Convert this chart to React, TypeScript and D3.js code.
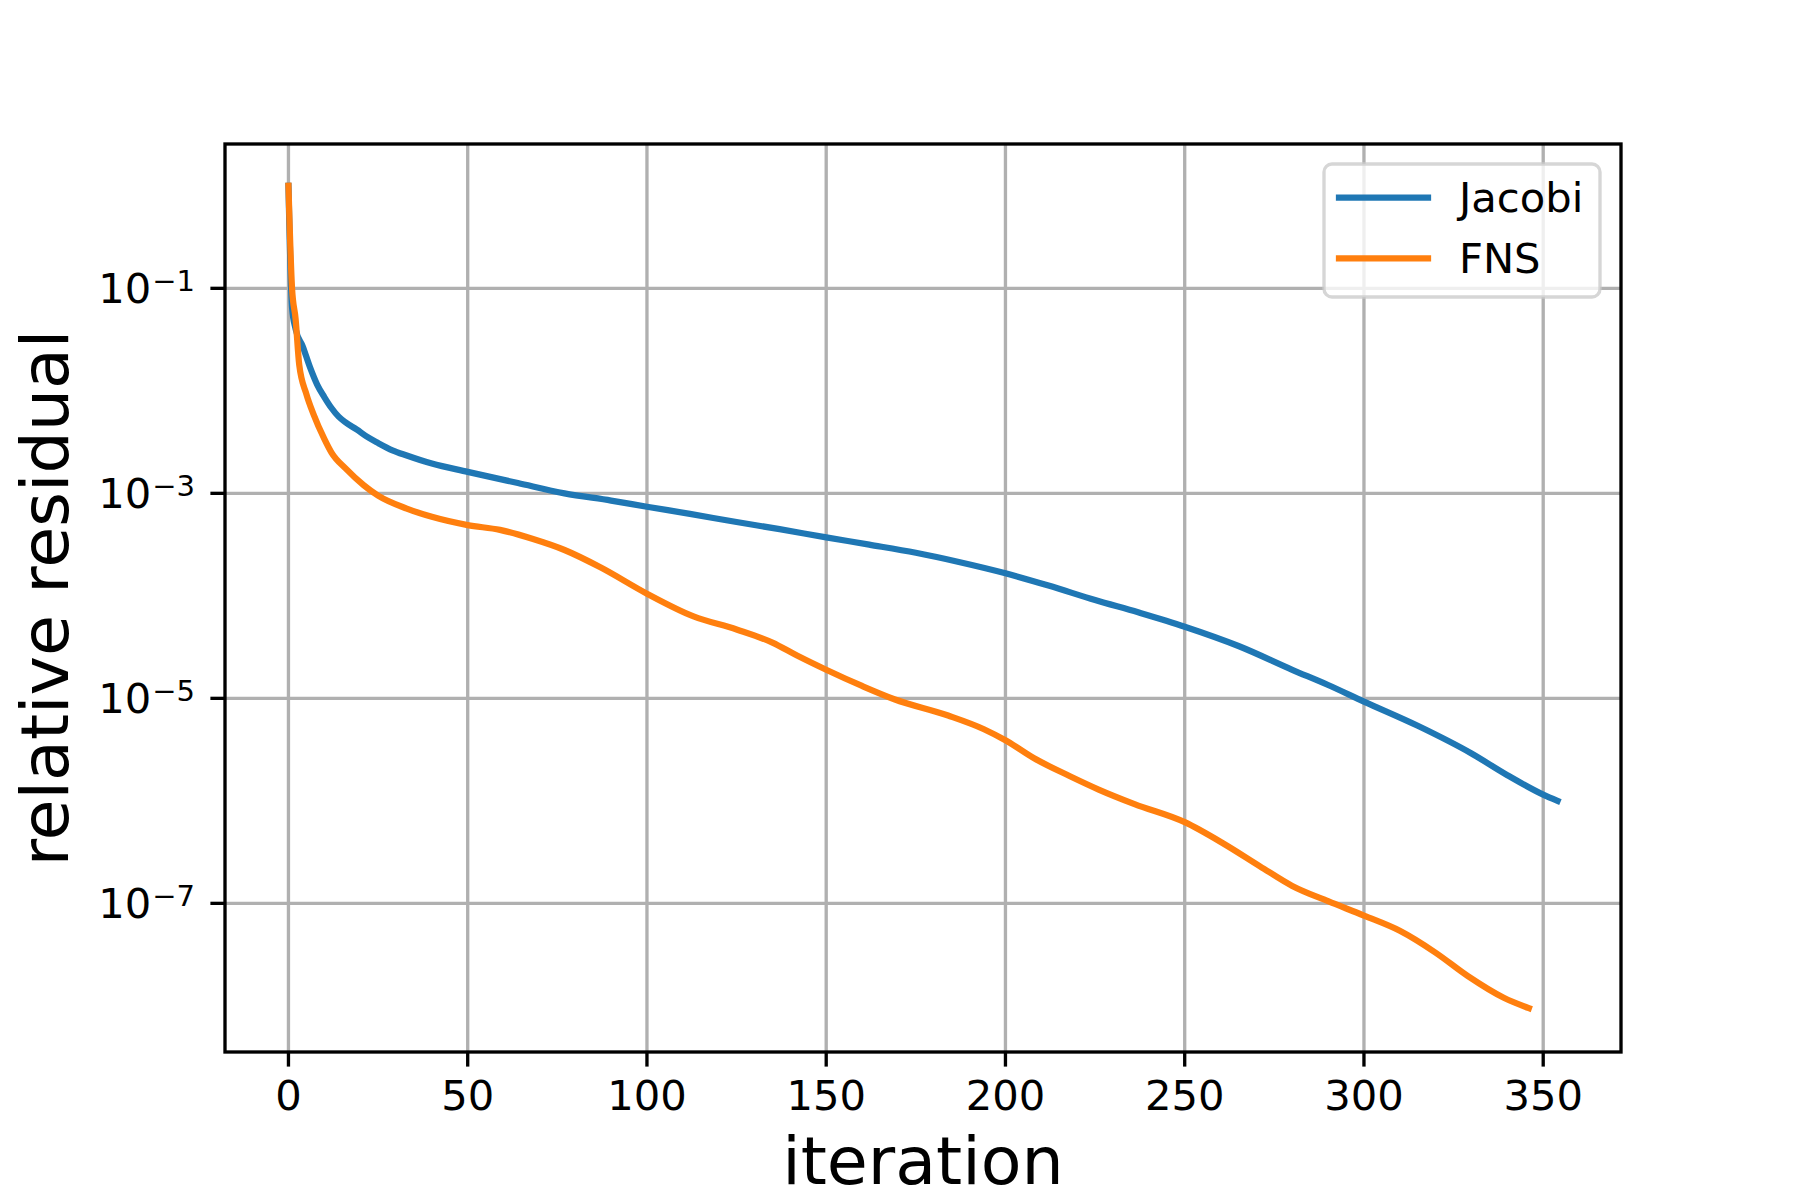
import React from 'react';
import * as d3 from 'd3';

// residual history (iteration, relative residual)
const jacobiIter = [0, 1, 2, 4, 6, 8, 10, 12, 14, 16, 19, 22, 25, 29, 33, 40, 50, 64, 77, 90, 100, 112, 125, 137, 150, 162, 175, 187, 200, 212, 225, 237, 250, 265, 280, 290, 300, 315, 330, 340, 350, 354];
const jacobiRes = [1, 6.5e-2, 4.0e-2, 2.7e-2, 1.7e-2, 1.15e-2, 8.7e-3, 6.8e-3, 5.6e-3, 4.9e-3, 4.2e-3, 3.55e-3, 3.1e-3, 2.63e-3, 2.34e-3, 1.95e-3, 1.62e-3, 1.26e-3, 1.0e-3, 8.5e-4, 7.4e-4, 6.3e-4, 5.25e-4, 4.47e-4, 3.72e-4, 3.16e-4, 2.63e-4, 2.14e-4, 1.66e-4, 1.26e-4, 9.1e-5, 6.9e-5, 5.0e-5, 3.24e-5, 1.9e-5, 1.35e-5, 9.3e-6, 5.4e-6, 2.9e-6, 1.78e-6, 1.15e-6, 1.0e-6];

const fnsIter = [0, 1, 2, 3, 5, 7, 10, 12, 16, 21, 25, 33, 40, 50, 59, 68, 77, 87, 100, 113, 125, 135, 142, 150, 160, 169, 184, 194, 200, 208, 218, 226, 236, 250, 261, 271, 280, 290, 300, 310, 320, 329, 339, 346];
const fnsRes = [1, 1.0e-1, 5.0e-2, 1.8e-2, 9.3e-3, 5.9e-3, 3.4e-3, 2.5e-3, 1.74e-3, 1.2e-3, 9.5e-4, 7.1e-4, 5.9e-4, 4.9e-4, 4.4e-4, 3.6e-4, 2.8e-4, 1.9e-4, 1.05e-4, 6.3e-5, 4.7e-5, 3.5e-5, 2.6e-5, 1.9e-5, 1.32e-5, 9.8e-6, 6.8e-6, 5.0e-6, 3.9e-6, 2.6e-6, 1.74e-6, 1.29e-6, 9.3e-7, 6.2e-7, 3.8e-7, 2.3e-7, 1.48e-7, 1.05e-7, 7.6e-8, 5.4e-8, 3.3e-8, 1.95e-8, 1.2e-8, 9.5e-9];

const seriesNames = ['Jacobi', 'FNS'];
const seriesColors = ['#1f77b4', '#ff7f0e'];

const xTicks = [0, 50, 100, 150, 200, 250, 300, 350];
const yTickExps = [-1, -3, -5, -7];

const W = 1800, H = 1200;
const left = 225, right = 1621, top = 144, bottom = 1052;
const font = 'DejaVu Sans, sans-serif';

export default function App() {
  const x = d3.scaleLinear().domain([-17.7, 371.7]).range([left, right]);
  const y = d3.scaleLog().domain([Math.pow(10, 0.408), Math.pow(10, -8.45)]).range([top, bottom]);

  const line = d3.line<[number, number]>()
    .x(d => x(d[0]))
    .y(d => y(d[1]))
    .curve(d3.curveMonotoneX);

  const series = [
    jacobiIter.map((it, i) => [it, jacobiRes[i]] as [number, number]),
    fnsIter.map((it, i) => [it, fnsRes[i]] as [number, number]),
  ];

  const gridW = 3.33;
  const tickLen = 14.6;

  return (
    <div>
      <style>{`body{margin:0}`}</style>
      <svg width={W} height={H} style={{ display: 'block', background: '#fff' }} fontFamily={font}>
        <defs>
          <clipPath id="plotArea">
            <rect x={left} y={top} width={right - left} height={bottom - top} />
          </clipPath>
        </defs>

        {/* grid */}
        <g stroke="#b0b0b0" strokeWidth={gridW}>
          {xTicks.map(t => (
            <line key={'gx' + t} x1={x(t)} x2={x(t)} y1={top} y2={bottom} />
          ))}
          {yTickExps.map(e => (
            <line key={'gy' + e} x1={left} x2={right} y1={y(Math.pow(10, e))} y2={y(Math.pow(10, e))} />
          ))}
        </g>

        {/* data */}
        <g clipPath="url(#plotArea)" fill="none">
          {series.map((s, i) => (
            <path key={seriesNames[i]} d={line(s) || ''} stroke={seriesColors[i]} strokeWidth={6.25}
              strokeLinejoin="round" strokeLinecap="square" />
          ))}
        </g>

        {/* spines */}
        <rect x={left} y={top} width={right - left} height={bottom - top} fill="none" stroke="#000" strokeWidth={gridW} />

        {/* x ticks */}
        <g>
          {xTicks.map(t => (
            <g key={'xt' + t}>
              <line x1={x(t)} x2={x(t)} y1={bottom} y2={bottom + tickLen} stroke="#000" strokeWidth={gridW} />
              <text x={x(t)} y={1110} textAnchor="middle" fontSize={41.67} fill="#000">{t}</text>
            </g>
          ))}
        </g>

        {/* y ticks */}
        <g>
          {yTickExps.map(e => {
            const ty = y(Math.pow(10, e));
            return (
              <g key={'yt' + e}>
                <line x1={left - tickLen} x2={left} y1={ty} y2={ty} stroke="#000" strokeWidth={gridW} />
                <text x={195} y={ty + 15} textAnchor="end" fontSize={41.67} fill="#000">
                  10<tspan dy={-12} dx={1} fontSize={29}>{'\u2212' + Math.abs(e)}</tspan>
                </text>
              </g>
            );
          })}
        </g>

        {/* axis labels */}
        <text x={(left + right) / 2} y={1184} textAnchor="middle" fontSize={66.67} fill="#000">iteration</text>
        <text transform={`translate(68,${(top + bottom) / 2}) rotate(-90)`} textAnchor="middle" fontSize={66.67} fill="#000">relative residual</text>

        {/* legend */}
        <g>
          <rect x={1324} y={164} width={276} height={133} rx={8} ry={8}
            fill="#fff" fillOpacity={0.8} stroke="#cccccc" strokeOpacity={0.8} strokeWidth={3.33} />
          {seriesNames.map((name, i) => {
            const ly = 197.7 + i * 60.6;
            return (
              <g key={'lg' + name}>
                <line x1={1339} x2={1428} y1={ly} y2={ly} stroke={seriesColors[i]} strokeWidth={6.25} strokeLinecap="square" />
                <text x={1459} y={ly + 14.4} fontSize={41.67} fill="#000">{name}</text>
              </g>
            );
          })}
        </g>
      </svg>
    </div>
  );
}
